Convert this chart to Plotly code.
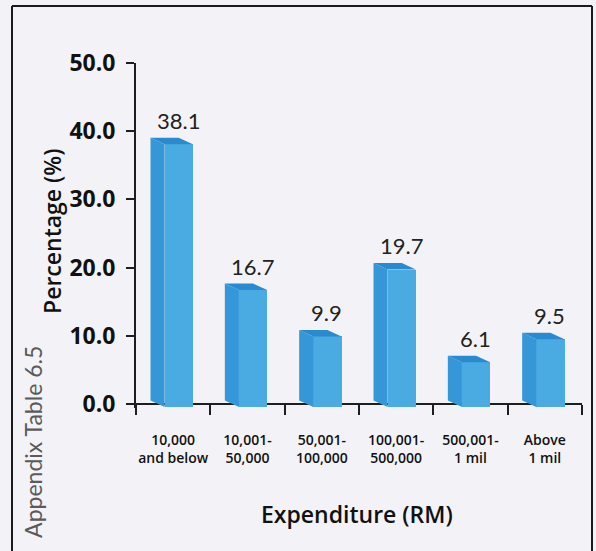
import plotly.graph_objects as go

# Share of firms by expenditure band (%)
categories = [
    "10,000<br>and below",
    "10,001-<br>50,000",
    "50,001-<br>100,000",
    "100,001-<br>500,000",
    "500,001-<br>1 mil",
    "Above<br>1 mil",
]
values = [38.1, 16.7, 9.9, 19.7, 6.1, 9.5]
y_ticks = [0, 10, 20, 30, 40, 50]

# Page geometry (pixels)
W, H = 596, 551
PLOT_L, PLOT_R, PLOT_T = 136, 582, 63
PX_PER_UNIT = (404 - 63) / 50.0
Y_MIN, Y_MAX = -0.6, 50.0
PLOT_B = PLOT_T + (Y_MAX - Y_MIN) * PX_PER_UNIT


def paper_x(px):
    return (px - PLOT_L) / (PLOT_R - PLOT_L)


def paper_y(py):
    return (PLOT_B - py) / (PLOT_B - PLOT_T)


# Pseudo-3D box styling (data units)
FRONT_L, FRONT_R = -0.115, 0.265
DEPTH_X, DEPTH_Y = -0.19, 0.95
BASE = -0.45
FRONT_COLOR = "#4aaae2"
SIDE_COLOR = "#3597d8"
TOP_COLOR = "#2a8acf"
INK = "#1e1e1e"
BG = "#f3f3f7"

fig = go.Figure()

positions = list(range(len(values)))

# Front faces
fig.add_trace(go.Bar(
    x=[p + (FRONT_L + FRONT_R) / 2 for p in positions],
    y=[v - BASE for v in values],
    base=BASE,
    width=FRONT_R - FRONT_L,
    marker=dict(color=FRONT_COLOR, line=dict(width=0)),
    hoverinfo="skip",
    showlegend=False,
))

for p, v in zip(positions, values):
    xl, xr = p + FRONT_L, p + FRONT_R
    # left side face
    fig.add_trace(go.Scatter(
        x=[xl + DEPTH_X, xl, xl, xl + DEPTH_X, xl + DEPTH_X],
        y=[BASE + DEPTH_Y, BASE, v, v + DEPTH_Y, BASE + DEPTH_Y],
        mode="lines", fill="toself", fillcolor=SIDE_COLOR,
        line=dict(width=0, color=SIDE_COLOR),
        hoverinfo="skip", showlegend=False,
    ))
    # top face
    fig.add_trace(go.Scatter(
        x=[xl + DEPTH_X, xl, xr, xr + DEPTH_X, xl + DEPTH_X],
        y=[v + DEPTH_Y, v, v, v + DEPTH_Y, v + DEPTH_Y],
        mode="lines", fill="toself", fillcolor=TOP_COLOR,
        line=dict(width=0, color=TOP_COLOR),
        hoverinfo="skip", showlegend=False,
    ))

# Value labels above each box
for p, v in zip(positions, values):
    fig.add_annotation(
        x=p + 0.065, y=v + DEPTH_Y, xref="x", yref="y",
        text=f"{v:.1f}", showarrow=False,
        xanchor="center", yanchor="bottom", yshift=2,
        font=dict(family="Lato, Open Sans, sans-serif", size=22, color="#222222"),
    )

# Axis titles and side caption
fig.add_annotation(
    x=paper_x(357), y=paper_y(514), xref="paper", yref="paper",
    text="Expenditure (RM)", showarrow=False,
    xanchor="center", yanchor="middle",
    font=dict(family="Open Sans, sans-serif", size=23, color="#111111", weight=600),
)
fig.add_annotation(
    x=paper_x(52), y=paper_y(232), xref="paper", yref="paper",
    text="Percentage (%)", showarrow=False, textangle=-90,
    xanchor="center", yanchor="middle",
    font=dict(family="Open Sans, sans-serif", size=23, color="#111111", weight=600),
)
fig.add_annotation(
    x=paper_x(33), y=paper_y(442), xref="paper", yref="paper",
    text="Appendix Table 6.5", showarrow=False, textangle=-90,
    xanchor="center", yanchor="middle",
    font=dict(family="Lato, Open Sans, sans-serif", size=23, color="#5a5a5a"),
)

# Page frame
frame = dict(type="line", xref="paper", yref="paper",
             line=dict(color="#1a1a1a", width=2))
fig.add_shape(**frame, x0=paper_x(12), x1=paper_x(12), y0=paper_y(6), y1=paper_y(560))
fig.add_shape(**frame, x0=paper_x(12), x1=paper_x(592), y0=paper_y(6), y1=paper_y(6))
fig.add_shape(**frame, x0=paper_x(592), x1=paper_x(592), y0=paper_y(6), y1=paper_y(560))

fig.update_layout(
    width=W, height=H,
    margin=dict(l=PLOT_L, r=W - PLOT_R, t=PLOT_T, b=H - PLOT_B, pad=0),
    paper_bgcolor=BG, plot_bgcolor=BG,
    showlegend=False,
    bargap=0,
    xaxis=dict(
        range=[-0.5, len(values) - 0.5],
        anchor="free",
        position=(0 - Y_MIN) / (Y_MAX - Y_MIN),
        tickmode="array",
        tickvals=positions,
        ticktext=categories,
        ticks="",
        showline=True, linecolor=INK, linewidth=2,
        showgrid=False, zeroline=False,
        layer="below traces",
        ticklabelstandoff=23,
        tickfont=dict(family="Open Sans, sans-serif", size=14, color="#111111", weight=600),
        minor=dict(
            tickmode="array",
            tickvals=[p - 0.5 for p in positions] + [positions[-1] + 0.5],
            ticks="outside", ticklen=10, tickwidth=2, tickcolor=INK,
            showgrid=False,
        ),
        fixedrange=True,
    ),
    yaxis=dict(
        range=[Y_MIN, Y_MAX],
        tickmode="array",
        tickvals=y_ticks,
        ticktext=[f"{t:.1f}" for t in y_ticks],
        ticks="outside", ticklen=8, tickwidth=2, tickcolor=INK,
        showline=True, linecolor=INK, linewidth=2,
        showgrid=False, zeroline=False,
        ticklabelstandoff=6,
        tickfont=dict(family="Open Sans, sans-serif", size=23, color="#111111", weight=700),
        fixedrange=True,
    ),
)

fig.write_html("out.html")
